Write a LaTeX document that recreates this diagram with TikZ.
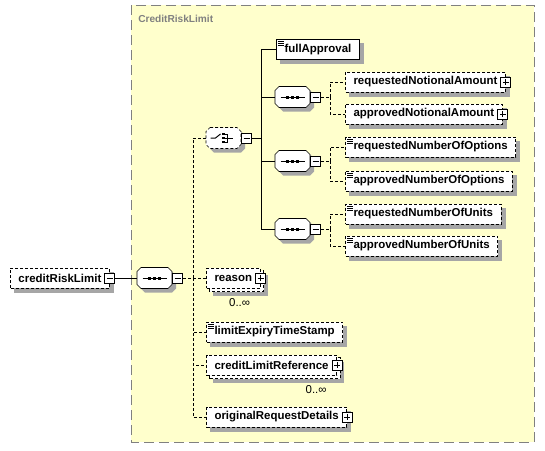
\documentclass[tikz,border=0pt]{standalone}
\usepackage{fontspec}
\setmainfont{Liberation Sans}
\usetikzlibrary{positioning, backgrounds}

\definecolor{grpfill}{HTML}{FFFFCC}
\definecolor{grpline}{HTML}{808080}
\definecolor{dropgray}{HTML}{A6A6A6}

% chamfered outline round a node: name, x offset, y offset
\newcommand{\octpath}[3]{%
  ([xshift=#2+3pt, yshift=#3]#1.north west) -- ([xshift=#2-3pt, yshift=#3]#1.north east)
  -- ([xshift=#2, yshift=#3-3pt]#1.north east) -- ([xshift=#2, yshift=#3+3pt]#1.south east)
  -- ([xshift=#2-3pt, yshift=#3]#1.south east) -- ([xshift=#2+3pt, yshift=#3]#1.south west)
  -- ([xshift=#2, yshift=#3+3pt]#1.south west) -- ([xshift=#2, yshift=#3-3pt]#1.north west)
  -- cycle}

\tikzset{
  opt/.style={dash pattern=on 2.25pt off 1.5pt},
  elem/.style={
    draw,
    fill=white,
    anchor=west,
    font=\fontsize{8.6}{10}\selectfont\bfseries,
    minimum height=15pt,
    inner xsep=6pt,
    inner ysep=0pt
  },
  simple/.style={path picture={
      \foreach \k in {1.5,3,4.5}
        \draw[solid] ([xshift=1pt, yshift=-\k*1pt]path picture bounding box.north west) -- ++(4.5pt,0);
    }},
  octa/.style={
    minimum width=25.5pt,
    minimum height=15pt,
    inner sep=0pt,
    anchor=west
  },
  seqsym/.style={octa, path picture={
      \begin{scope}[shift={(path picture bounding box.center)}]
        \draw (-12,0) -- (12,0);
        \foreach \d in {-5,0,5}
          \fill (\d-1.5,-1.5) rectangle (\d+1.5,1.5);
      \end{scope}
    }},
  choicesym/.style={octa, path picture={
      \begin{scope}[shift={(path picture bounding box.center)}]
        \draw (-13,0) -- (-8,0) -- (-3,-4);
        \foreach \d in {-4,0,4} {
          \fill (-2,\d-1) rectangle (1,\d+1);
          \draw (1,\d) -- (4,\d);
        }
        \draw (4,-4) -- (4,4);
        \draw (4,0) -- (9,0);
      \end{scope}
    }},
  xbox/.style={draw, fill=white, minimum size=7.5pt, inner sep=0pt},
  collapse/.style={xbox, path picture={
      \draw ([xshift=1.5pt]path picture bounding box.west) -- ([xshift=-1.5pt]path picture bounding box.east);
    }},
  expand/.style={xbox, path picture={
      \draw ([xshift=1.5pt]path picture bounding box.west) -- ([xshift=-1.5pt]path picture bounding box.east);
      \draw ([yshift=-1.5pt]path picture bounding box.north) -- ([yshift=1.5pt]path picture bounding box.south);
    }},
  mult/.style={font=\fontsize{8.6}{10}\selectfont, anchor=north east, inner sep=0pt}
}

\begin{document}
\begin{tikzpicture}[x=0.75pt, y=-0.75pt, line width=0.75pt]
  \useasboundingbox (0,0) rectangle (545,450);

  % root and main sequence
  \node[elem, opt] (root) at (10,278) {creditRiskLimit\hspace{2.5pt}};
  \node[collapse] (rootx) at (root.east) {};
  \node[seqsym] (seq) at (137,278) {};
  \node[collapse, right=0pt of seq] (seqx) {};

  % choice
  \node[choicesym] (choice) at (206,138) {};
  \node[collapse, right=0pt of choice] (choicex) {};
  \node[elem, simple] (full) at (276,49.5) {fullApproval};

  \node[seqsym] (seqa) at (275,97) {};
  \node[collapse, right=0pt of seqa] (seqax) {};
  \node[elem, opt] (rna) at (345,82) {requestedNotionalAmount\hspace{2.5pt}};
  \node[expand] (rnax) at (rna.east) {};
  \node[elem, opt] (ana) at (345,114) {approvedNotionalAmount\hspace{2.5pt}};
  \node[expand] (anax) at (ana.east) {};

  \node[seqsym] (seqb) at (275,161) {};
  \node[collapse, right=0pt of seqb] (seqbx) {};
  \node[elem, opt, simple] (rno) at (345,147) {requestedNumberOfOptions};
  \node[elem, opt, simple] (ano) at (345,181) {approvedNumberOfOptions};

  \node[seqsym] (seqc) at (275,229) {};
  \node[collapse, right=0pt of seqc] (seqcx) {};
  \node[elem, opt, simple] (rnu) at (345,214) {requestedNumberOfUnits};
  \node[elem, opt, simple] (anu) at (345,246) {approvedNumberOfUnits};

  % rest of the sequence
  \node[elem, opt] (reason) at (206,278) {reason\hspace{2.5pt}};
  \node[expand] (reasonx) at (reason.east) {};
  \node[mult] (reasonm) at ([xshift=-7.5pt, yshift=-7pt]reason.south east) {0..∞};
  \node[elem, opt, simple] (limit) at (206,332) {limitExpiryTimeStamp};
  \node[elem, opt] (ref) at (206,365) {creditLimitReference\hspace{2.5pt}};
  \node[expand] (refx) at (ref.east) {};
  \node[mult] (refm) at ([xshift=-7.5pt, yshift=-7pt]ref.south east) {0..∞};
  \node[elem, opt] (orig) at (206,417) {originalRequestDetails\hspace{2.5pt}};
  \node[expand] (origx) at (orig.east) {};

  % the complex type, shadows, stacked copies and octagons behind the nodes
  \begin{scope}[on background layer]
    \draw[grpline, fill=grpfill, dash pattern=on 7.5pt off 3.75pt] (131,5) rectangle (534,442);
    \node[
    anchor=west,
    text=grpline,
    font=\fontsize{7.6}{9}\selectfont\bfseries,
    inner sep=0pt
    ] (grp) at (138,19) {CreditRiskLimit};
    \foreach \n in {root, full, rna, ana, rno, ano, rnu, anu, limit, orig}
      \fill[dropgray] ([xshift=3pt, yshift=-3pt]\n.south west) rectangle ([xshift=3pt, yshift=-3pt]\n.north east);
    \foreach \n in {reason, ref} {
      \fill[dropgray] ([xshift=5.25pt, yshift=-5.25pt]\n.south west) rectangle ([xshift=5.25pt, yshift=-5.25pt]\n.north east);
      \draw[opt, fill=white] ([xshift=2.25pt, yshift=-2.25pt]\n.south west) rectangle ([xshift=2.25pt, yshift=-2.25pt]\n.north east);
    }
    \foreach \n in {seq, seqa, seqb, seqc, choice}
      \fill[dropgray] \octpath{\n}{3pt}{-3pt};
    \foreach \n in {seq, seqa, seqb, seqc}
      \draw[fill=white] \octpath{\n}{0pt}{0pt};
    \draw[opt, fill=white] \octpath{choice}{0pt}{0pt};
  \end{scope}

  % connectors
  \draw (rootx.east) -- (seq.west);
  \coordinate (trunk) at (193,278);
  \draw[opt] (seqx.east) -- (trunk);
  \foreach \n in {choice, reason, limit, ref, orig}
    \draw[opt] (trunk) |- (\n.west);

  \coordinate (cbus) at (261,138);
  \draw (choicex.east) -- (cbus);
  \foreach \n in {full, seqa, seqb, seqc}
    \draw (cbus) |- (\n.west);

  \coordinate (abus) at (330,97);
  \draw[opt] (seqax.east) -- (abus);
  \foreach \n in {rna, ana}
    \draw[opt] (abus) |- (\n.west);
  \coordinate (bbus) at (330,161);
  \draw[opt] (seqbx.east) -- (bbus);
  \foreach \n in {rno, ano}
    \draw[opt] (bbus) |- (\n.west);
  \coordinate (cbus2) at (330,229);
  \draw[opt] (seqcx.east) -- (cbus2);
  \foreach \n in {rnu, anu}
    \draw[opt] (cbus2) |- (\n.west);
\end{tikzpicture}
\end{document}
